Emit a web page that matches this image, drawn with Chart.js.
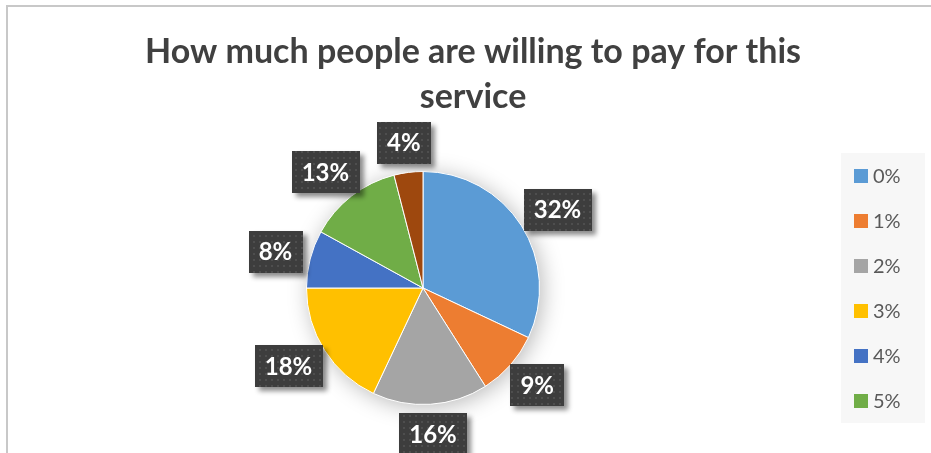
<!DOCTYPE html>
<html>
<head>
<meta charset="utf-8">
<script src="https://cdn.jsdelivr.net/npm/chart.js@4"></script>
<style>
  html, body { margin: 0; padding: 0; background: #fff; }
  #wrap { position: relative; width: 931px; height: 453px; }
</style>
</head>
<body>
<div id="wrap"><canvas id="chart" width="931" height="453"></canvas></div>
<script>
const titleLines = ["How much people are willing to pay for this", "service"];
const categories = ["0%", "1%", "2%", "3%", "4%", "5%", "6%"];
const shares = [32, 9, 16, 18, 8, 13, 4];
const sliceColors = ["#5b9bd5", "#ed7d31", "#a5a5a5", "#ffc000", "#4472c4", "#70ad47", "#9e480e"];
const legendCount = 6; // the reference only shows the first six entries

const fontFamily = "Lato, 'Open Sans', sans-serif";

// dotted dark fill for the data label boxes
function makeDotPattern(ctx) {
  const p = document.createElement("canvas");
  p.width = 6;
  p.height = 6;
  const pc = p.getContext("2d");
  pc.fillStyle = "#3d3d3d";
  pc.fillRect(0, 0, 6, 6);
  pc.fillStyle = "#4e4e4e";
  pc.fillRect(1, 1, 2, 2);
  return ctx.createPattern(p, "repeat");
}

const framePlugin = {
  id: "frame",
  beforeDraw(chart) {
    const ctx = chart.ctx;
    ctx.save();
    ctx.fillStyle = "#ffffff";
    ctx.fillRect(0, 0, chart.width, chart.height);
    ctx.fillStyle = "#c8c8c8";
    ctx.fillRect(6, 5, 2, chart.height - 5);
    ctx.fillRect(6, 5, chart.width - 6, 2);

    // title
    ctx.fillStyle = "#404040";
    ctx.font = "bold 34px " + fontFamily;
    ctx.textAlign = "center";
    ctx.textBaseline = "middle";
    ctx.fillText(titleLines[0], 473, 52);
    ctx.fillText(titleLines[1], 473, 97);

    // legend panel
    ctx.fillStyle = "#f7f7f7";
    ctx.fillRect(841, 153, 84, 270);
    ctx.font = "20px " + fontFamily;
    ctx.textAlign = "left";
    const ds = chart.data.datasets[0];
    for (let i = 0; i < legendCount; i++) {
      const y = 176 + i * 45;
      ctx.fillStyle = ds.backgroundColor[i];
      ctx.fillRect(854, y - 7, 14, 14);
      ctx.fillStyle = "#595959";
      ctx.fillText(chart.data.labels[i], 873, y + 1);
    }
    ctx.restore();
  },
  beforeDatasetsDraw(chart) {
    const ctx = chart.ctx;
    ctx.save();
    ctx.shadowColor = "rgba(0,0,0,0.28)";
    ctx.shadowBlur = 22;
    ctx.shadowOffsetX = 3;
    ctx.shadowOffsetY = 3;
    const arc = chart.getDatasetMeta(0).data[0];
    if (arc) {
      ctx.fillStyle = "#ffffff";
      ctx.beginPath();
      ctx.arc(arc.x, arc.y, arc.outerRadius, 0, Math.PI * 2);
      ctx.fill();
    }
    ctx.restore();
  },
  afterDatasetsDraw(chart) {
    const ctx = chart.ctx;
    const meta = chart.getDatasetMeta(0);
    const values = chart.data.datasets[0].data;
    const total = values.reduce((a, b) => a + b, 0);
    const pattern = makeDotPattern(ctx);
    ctx.save();
    ctx.font = "bold 24px " + fontFamily;
    ctx.textAlign = "center";
    ctx.textBaseline = "middle";
    meta.data.forEach((arc, i) => {
      const mid = (arc.startAngle + arc.endAngle) / 2;
      const dx = Math.cos(mid);
      const dy = Math.sin(mid);
      const text = Math.round(values[i] / total * 100) + "%";
      const w = ctx.measureText(text).width + 20;
      const h = 42;
      const r = arc.outerRadius + 9;
      const cx = arc.x + dx * r + dx * w / 2;
      const cy = arc.y + dy * r + dy * h / 2;
      ctx.save();
      ctx.shadowColor = "rgba(0,0,0,0.45)";
      ctx.shadowBlur = 5;
      ctx.shadowOffsetX = 4;
      ctx.shadowOffsetY = 4;
      ctx.fillStyle = pattern;
      ctx.fillRect(Math.round(cx - w / 2), Math.round(cy - h / 2), Math.round(w), h);
      ctx.restore();
      ctx.fillStyle = "#ffffff";
      ctx.fillText(text, cx, cy + 1);
    });
    ctx.restore();
  }
};

new Chart(document.getElementById("chart").getContext("2d"), {
  type: "pie",
  data: {
    labels: categories,
    datasets: [{
      data: shares,
      backgroundColor: sliceColors,
      borderColor: "#ffffff",
      borderWidth: 1
    }]
  },
  options: {
    responsive: false,
    animation: false,
    layout: {
      padding: { left: 306, right: 391, top: 171, bottom: 48 }
    },
    plugins: {
      legend: { display: false },
      tooltip: { enabled: false },
      title: { display: false }
    }
  },
  plugins: [framePlugin]
});
</script>
</body>
</html>
